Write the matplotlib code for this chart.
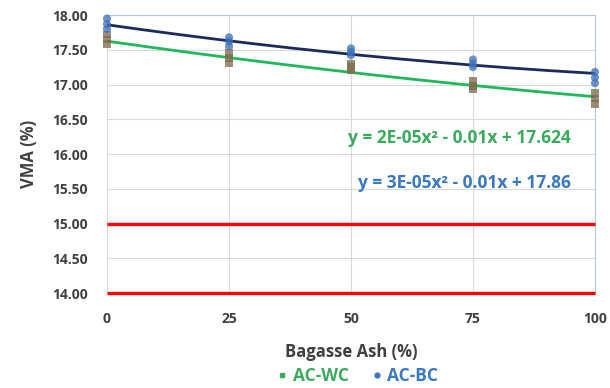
import numpy as np
import matplotlib.pyplot as plt
from matplotlib.lines import Line2D

plt.rcParams['font.family'] = ['Open Sans', 'DejaVu Sans']

# bagasse ash content (%)
ash = [0, 25, 50, 75, 100]

# VMA replicates per ash content
wc_vma = [[17.58, 17.65, 17.72],
          [17.30, 17.38, 17.45],
          [17.20, 17.25, 17.30],
          [16.93, 16.98, 17.05],
          [16.72, 16.80, 16.88]]
bc_vma = [[17.80, 17.87, 17.95],
          [17.55, 17.62, 17.68],
          [17.42, 17.47, 17.52],
          [17.25, 17.30, 17.36],
          [17.02, 17.10, 17.18]]

# polynomial trend coefficients (a, b, c) for y = a x^2 + b x + c
wc_fit = [2e-05, -0.01, 17.624]
bc_fit = [3e-05, -0.01, 17.86]

# specification limits
limits = [15.0, 14.0]

fig = plt.figure(figsize=(6.1, 3.88), dpi=100)
ax = fig.add_axes([0.1754, 0.2448, 0.8, 0.7165])

grid_c = '#d9d9d9'
for s in ['top', 'right']:
    ax.spines[s].set_color('#b4c7dc')
for s in ['left', 'bottom']:
    ax.spines[s].set_color('#d9d9d9')
ax.grid(True, color=grid_c, lw=0.8)
ax.set_axisbelow(True)

for lim in limits:
    ax.plot([0, 100], [lim, lim], color='#ff0000', lw=2.4, solid_capstyle='butt',
            zorder=3, clip_on=False)

xs = np.linspace(0, 100, 200)
ax.plot(xs, np.polyval(wc_fit, xs), color='#1fb85a', lw=2.0, zorder=4)
ax.plot(xs, np.polyval(bc_fit, xs), color='#1c2b5e', lw=2.0, zorder=4)

for x, vals in zip(ash, wc_vma):
    ax.scatter([x] * len(vals), vals, marker='s', s=30, color='#7d6a4a', alpha=0.75,
               edgecolors='none', zorder=5, clip_on=False)
for x, vals in zip(ash, bc_vma):
    ax.scatter([x] * len(vals), vals, marker='o', s=34, color='#3b6fb6', alpha=0.75,
               edgecolors='none', zorder=5, clip_on=False)

ax.set_xlim(0, 100)
ax.set_ylim(14, 18)
ax.set_xticks(ash)
ax.set_yticks(np.arange(14, 18.01, 0.5))
ax.set_yticklabels([f'{v:.2f}' for v in np.arange(14, 18.01, 0.5)])
ax.tick_params(length=0, labelsize=10, colors='#404040')
ax.tick_params(axis='y', pad=14)
ax.tick_params(axis='x', pad=14)
for lab in ax.get_xticklabels() + ax.get_yticklabels():
    lab.set_fontweight('bold')

ax.set_xlabel('Bagasse Ash (%)', fontsize=12, fontweight='bold', color='#404040', labelpad=12)
ax.set_ylabel('VMA (%)', fontsize=12, fontweight='bold', color='#404040', labelpad=10)

ax.text(95, 16.23, 'y = 2E-05x² - 0.01x + 17.624', color='#3aaa5c', fontsize=12.5,
        fontweight='bold', ha='right', va='center')
ax.text(95, 15.58, 'y = 3E-05x² - 0.01x + 17.86', color='#3a78c0', fontsize=12.5,
        fontweight='bold', ha='right', va='center')

handles = [Line2D([], [], marker='s', ls='none', color='#3aaa5c', markersize=3.5),
           Line2D([], [], marker='o', ls='none', color='#3a78c0', markersize=3.5)]
leg = fig.legend(handles, ['AC-WC', 'AC-BC'], loc='center', bbox_to_anchor=(0.582, 0.03),
                 ncol=2, frameon=False, handletextpad=0.0, columnspacing=1.0,
                 handlelength=1.2, prop={'size': 12.5, 'weight': 'bold'})
for t, c in zip(leg.get_texts(), ['#3aaa5c', '#3a78c0']):
    t.set_color(c)

fig.savefig('out.png', dpi=100)
